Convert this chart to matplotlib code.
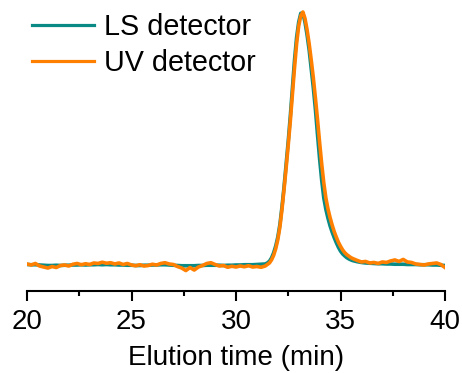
import matplotlib
matplotlib.use("Agg")
import matplotlib.pyplot as plt
from matplotlib.ticker import MultipleLocator

plt.rcParams['font.family'] = ['Liberation Sans', 'DejaVu Sans']

# ---- data (normalized detector response, baseline = 0, peak = 1) ----
time_left = [20.0, 20.2, 20.4, 20.6, 20.8, 21.0, 21.2, 21.4, 21.6, 21.8,
             22.0, 22.2, 22.4, 22.6, 22.8, 23.0, 23.2, 23.4, 23.6, 23.8,
             24.0, 24.2, 24.4, 24.6, 24.8, 25.0, 25.2, 25.4, 25.6, 25.8,
             26.0, 26.2, 26.4, 26.6, 26.8, 27.0, 27.2, 27.4, 27.6, 27.8,
             28.0, 28.2, 28.4, 28.6, 28.8, 29.0, 29.2, 29.4, 29.6, 29.8,
             30.0, 30.2, 30.4, 30.6, 30.8, 31.0, 31.2, 31.4]
time_peak = [31.5, 31.6, 31.7, 31.8, 31.9, 32.0, 32.1, 32.2, 32.3, 32.4,
             32.5, 32.6, 32.7, 32.8, 32.9, 33.0, 33.1, 33.2, 33.3, 33.4,
             33.5, 33.6, 33.7, 33.8, 33.9, 34.0, 34.1, 34.2, 34.3, 34.4,
             34.5, 34.6, 34.7, 34.8, 34.9, 35.0, 35.1, 35.2, 35.3, 35.4,
             35.5, 35.6]
time_tail = [35.8, 36.0, 36.2, 36.4, 36.6, 36.8, 37.0, 37.2, 37.4, 37.6,
             37.8, 38.0, 38.2, 38.4, 38.6, 38.8, 39.0, 39.2, 39.4, 39.6,
             39.8, 40.0]

ls_left = [0.002, 0.001, 0.001, 0.000, -0.001, -0.002, -0.002, -0.001, -0.002, -0.001,
           -0.001, 0.000, 0.000, 0.001, 0.000, 0.001, 0.001, 0.002, 0.001, 0.002,
           0.001, 0.001, 0.000, 0.000, -0.001, -0.001, -0.002, -0.002, -0.001, -0.001,
           0.000, 0.000, 0.001, 0.001, 0.000, -0.001, -0.002, -0.003, -0.003, -0.003,
           -0.003, -0.002, -0.002, -0.001, -0.001, -0.001, -0.001, -0.002, -0.001, -0.001,
           0.000, 0.000, 0.001, 0.001, 0.001, 0.002, 0.003, 0.004]
ls_peak = [0.008, 0.015, 0.028, 0.048, 0.075, 0.11, 0.16, 0.23, 0.31, 0.40,
           0.49, 0.59, 0.70, 0.81, 0.90, 0.96, 0.995, 0.995, 0.96, 0.91,
           0.85, 0.775, 0.70, 0.615, 0.515, 0.42, 0.335, 0.265, 0.22, 0.185,
           0.155, 0.13, 0.108, 0.088, 0.070, 0.055, 0.044, 0.036, 0.029, 0.024,
           0.020, 0.017]
ls_tail = [0.013, 0.010, 0.008, 0.007, 0.006, 0.005, 0.005, 0.004, 0.004, 0.003,
           0.003, 0.003, 0.002, 0.002, 0.002, 0.001, 0.001, 0.001, 0.000, 0.000,
           -0.001, -0.002]

uv_left = [0.004, 0.000, 0.006, -0.004, -0.008, -0.012, -0.006, -0.010, -0.002, 0.000,
           -0.004, 0.003, 0.006, 0.001, 0.005, 0.002, 0.008, 0.006, 0.011, 0.007,
           0.009, 0.004, 0.008, 0.002, 0.006, 0.000, -0.003, 0.001, -0.004, -0.002,
           0.003, 0.000, 0.006, 0.009, 0.004, 0.002, -0.006, -0.012, -0.022, -0.010,
           -0.020, -0.008, -0.002, 0.006, 0.009, 0.002, -0.004, -0.002, -0.009, -0.005,
           -0.008, -0.004, -0.007, -0.003, -0.008, -0.006, -0.009, -0.004]
uv_peak = [0.002, 0.008, 0.020, 0.038, 0.064, 0.10, 0.15, 0.22, 0.30, 0.385,
           0.475, 0.57, 0.675, 0.78, 0.875, 0.945, 0.985, 1.0, 0.975, 0.93,
           0.875, 0.81, 0.74, 0.66, 0.575, 0.485, 0.40, 0.325, 0.265, 0.222,
           0.188, 0.158, 0.132, 0.110, 0.090, 0.074, 0.060, 0.049, 0.041, 0.035,
           0.029, 0.025]
uv_tail = [0.018, 0.012, 0.014, 0.008, 0.010, 0.006, 0.012, 0.010, 0.016, 0.020,
           0.014, 0.022, 0.012, 0.010, 0.004, 0.002, 0.000, 0.004, 0.006, 0.008,
           0.002, -0.010]

series_labels = ["LS detector", "UV detector"]
x_ticks = [20, 25, 30, 35, 40]
x_label = "Elution time (min)"

time = time_left + time_peak + time_tail
ls = ls_left + ls_peak + ls_tail
uv = uv_left + uv_peak + uv_tail

teal = "#0A8A84"
orange = "#FF8000"

fig = plt.figure(figsize=(4.62, 3.73), dpi=100)
ax = fig.add_axes([27/462, (373-291)/373, (445-27)/462, (291-5)/373])

ax.plot(time, ls, color=teal, lw=2.6, label=series_labels[0], solid_joinstyle='round')
ax.plot(time, uv, color=orange, lw=2.6, label=series_labels[1], solid_joinstyle='round')

ax.set_xlim(20, 40)
ax.set_ylim(-0.1028, 1.0277)
ax.set_xticks(x_ticks)
ax.set_xticklabels([str(t) for t in x_ticks])
ax.xaxis.set_minor_locator(MultipleLocator(2.5))
ax.tick_params(axis='x', which='major', direction='out', length=7, width=1.5,
               labelsize=20, pad=6, color='black')
ax.tick_params(axis='x', which='minor', direction='out', length=3.5, width=1.5)
ax.set_yticks([])
for s in ['left', 'top', 'right']:
    ax.spines[s].set_visible(False)
ax.spines['bottom'].set_linewidth(1.5)
ax.set_xlabel(x_label, fontsize=20, labelpad=7.5)

leg = ax.legend(loc='upper left', bbox_to_anchor=(5/418, 1 - 8/286), frameon=False,
                fontsize=20.7, handlelength=2.15, handletextpad=0.35,
                labelspacing=0.28, borderpad=0, borderaxespad=0)
for h in leg.get_lines():
    h.set_linewidth(2.3)

fig.savefig("out.png", dpi=100)
